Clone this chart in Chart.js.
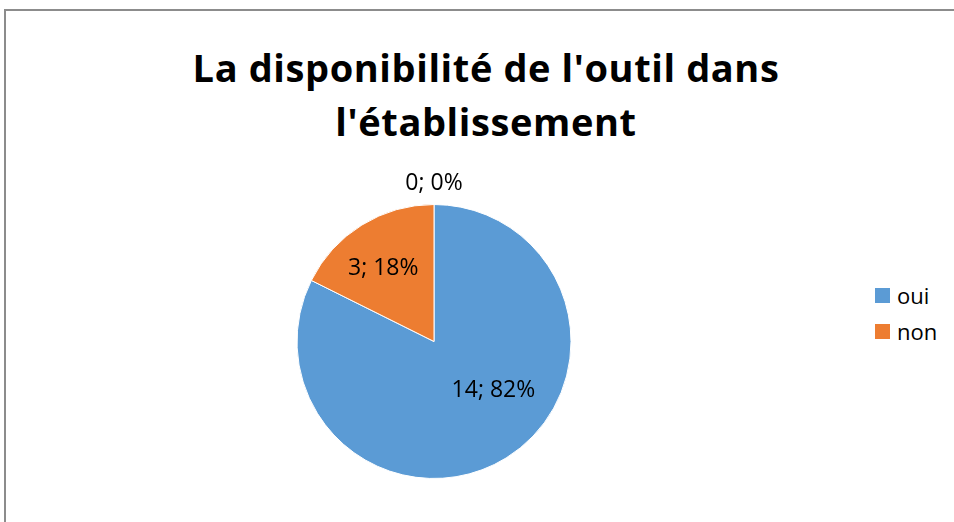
<!DOCTYPE html>
<html>
<head>
<meta charset="utf-8">
<script src="https://cdn.jsdelivr.net/npm/chart.js@4.4.1/dist/chart.umd.min.js"></script>
<style>
  html, body { margin: 0; padding: 0; background: #fff; }
  body { width: 954px; height: 522px; position: relative; overflow: hidden; font-family: "Open Sans", sans-serif; }
  #frame { position: absolute; left: 4px; top: 9px; width: 960px; height: 530px; border: 2px solid #8c8c8c; box-sizing: border-box; }
  #title { position: absolute; left: 0; width: 972px; top: 40px; text-align: center; font-weight: bold; font-size: 38px; line-height: 54px; color: #000; letter-spacing: 0.6px; }
  #legend { position: absolute; left: 875px; top: 277px; font-size: 22px; color: #000; }
  .item { height: 36px; display: flex; align-items: center; }
  .sw { width: 15px; height: 15px; margin-right: 7px; }
  #wrap { position: absolute; left: 0; top: 0; width: 954px; height: 522px; }
</style>
</head>
<body>
<div id="frame"></div>
<div id="title">La disponibilité de l'outil dans<br>l'établissement</div>
<div id="legend"></div>
<div id="wrap"><canvas id="pie"></canvas></div>
<script>
const labels = ["oui", "non", ""];
const values = [14, 3, 0];
const colors = ["#5B9BD5", "#ED7D31", "#A5A5A5"];

/* legend (only named categories) */
const legend = document.getElementById("legend");
labels.forEach((l, i) => {
    if (!l) return;
    const row = document.createElement("div");
    row.className = "item";
    row.innerHTML = '<span class="sw" style="background:' + colors[i] + '"></span><span>' + l + '</span>';
    legend.appendChild(row);
});

/* data labels "value; percent" */
const pieLabels = {
    id: "pieLabels",
    afterDatasetsDraw(chart, args, opts) {
        const ctx = chart.ctx;
        const data = chart.data.datasets[0].data;
        const total = data.reduce((a, b) => a + b, 0);
        const meta = chart.getDatasetMeta(0);
        ctx.save();
        ctx.font = opts.font;
        ctx.fillStyle = "#000";
        ctx.textAlign = "center";
        ctx.textBaseline = "middle";
        meta.data.forEach((arc, i) => {
            const p = arc.getProps(["x", "y", "startAngle", "endAngle", "outerRadius"], true);
            const place = opts.place[i];
            const a = (p.startAngle + p.endAngle) / 2 + place.da * Math.PI / 180;
            const r = p.outerRadius * place.r;
            const pct = Math.round(data[i] / total * 100);
            ctx.fillText(data[i] + "; " + pct + "%", p.x + Math.cos(a) * r, p.y + Math.sin(a) * r);
        });
        ctx.restore();
    }
};

new Chart(
    document.getElementById("pie"),
    {
        type: "pie",
        data: {
            labels: labels,
            datasets: [{
                data: values,
                backgroundColor: colors,
                borderColor: "#ffffff",
                borderWidth: 1
            }]
        },
        options: {
            responsive: true,
            maintainAspectRatio: false,
            animation: false,
            layout: {
                padding: { left: 296, right: 382, top: 204, bottom: 43 }
            },
            plugins: {
                legend: { display: false },
                tooltip: { enabled: false },
                pieLabels: {
                    font: "23px 'Open Sans'",
                    place: [
                        { r: 0.56, da: -19 },
                        { r: 0.65, da: -3 },
                        { r: 1.15, da: 0 }
                    ]
                }
            }
        },
        plugins: [pieLabels]
    }
);
</script>
</body>
</html>
